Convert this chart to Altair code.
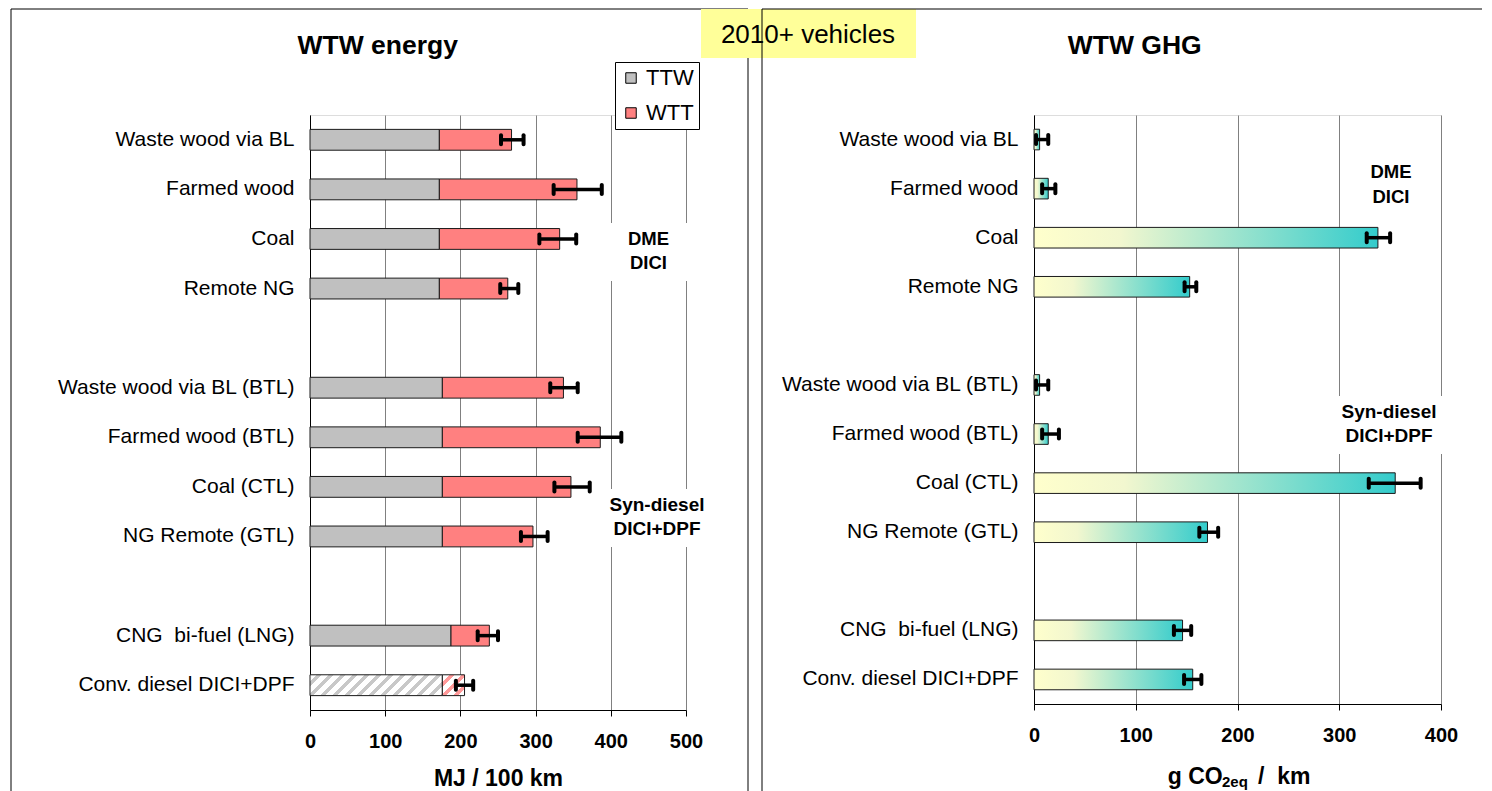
import altair as alt
import pandas as pd

# ---------------- data ----------------
categories = [
    "Waste wood via BL", "Farmed wood", "Coal", "Remote NG",
    "Waste wood via BL (BTL)", "Farmed wood (BTL)", "Coal (CTL)", "NG Remote (GTL)",
    "CNG \u00a0bi-fuel (LNG)", "Conv. diesel DICI+DPF",
]
ttw_energy = [172, 172, 172, 172, 176, 176, 176, 176, 187.5, 176]
wtw_energy = [268, 355, 332, 263, 337, 386, 347, 296.5, 238.5, 205.5]
wtw_energy_low = [254, 324, 305, 253, 319.5, 356, 325, 280.5, 223, 194]
wtw_energy_high = [284, 388, 354, 277, 356, 414, 372, 316, 250, 217]
wtw_ghg = [5.5, 14, 338, 153, 5.5, 14, 355, 170.5, 146, 156]
wtw_ghg_low = [2, 8, 327, 148, 2, 8, 329, 162.5, 137.5, 147.5]
wtw_ghg_high = [14, 21, 350, 159.5, 14, 24.5, 380, 181, 154.5, 164.5]
energy_ticks = [0, 100, 200, 300, 400, 500]
ghg_ticks = [0, 100, 200, 300, 400]
series_names = ["TTW", "WTT"]
hatched_category = "Conv. diesel DICI+DPF"
gap_labels = [" ", "  "]
group_notes = [["DME", "DICI"], ["Syn-diesel", "DICI+DPF"]]

# ---------------- layout / style ----------------
FONT = "Liberation Sans"
LW, LH = 376, 595
RW, RH = 407, 589
SPACING = 348
P_IN, P_OUT = 0.58, 0.29
series_colors = ["#c0c0c0", "#ff8080"]
GRID = "#808080"
EDGE = "#1a1a1a"

y_order = categories[:4] + [gap_labels[0]] + categories[4:8] + [gap_labels[1]] + categories[8:]

rows = []
for c, t, w in zip(categories, ttw_energy, wtw_energy):
    if c == hatched_category:
        continue
    rows.append({"cat": c, "series": "TTW", "start": 0, "end": t})
    rows.append({"cat": c, "series": "WTT", "start": t, "end": w})
energy_bars = pd.DataFrame(rows)
hi = categories.index(hatched_category)
hatch_ttw = pd.DataFrame([{"cat": hatched_category, "start": 0, "end": ttw_energy[hi]}])
hatch_wtt = pd.DataFrame([{"cat": hatched_category, "start": ttw_energy[hi], "end": wtw_energy[hi]}])
energy_err = pd.DataFrame({"cat": categories, "lo": wtw_energy_low, "hi": wtw_energy_high})
ghg_df = pd.DataFrame({"cat": categories, "v": wtw_ghg, "lo": wtw_ghg_low, "hi": wtw_ghg_high})
one = pd.DataFrame({"k": [0]})

# hatch pattern built as a striped linear gradient
step_L = LH / (len(y_order) - P_IN + 2 * P_OUT)
band_L = step_L * (1 - P_IN)
px_L = LW / energy_ticks[-1]


def hatch(w, h, col, period=12.0, stripe=5.0):
    r = h / w
    k = (1 + r) / (1 + r * r)
    tot = w + h
    stops = []
    pos = 0.0
    while pos < tot:
        a = min(pos / tot, 1)
        b = min((pos + period - stripe) / tot, 1)
        c = min((pos + period) / tot, 1)
        stops += [{"offset": round(a, 4), "color": "white"},
                  {"offset": round(b, 4), "color": "white"},
                  {"offset": round(b, 4), "color": col},
                  {"offset": round(c, 4), "color": col}]
        pos += period
    return {"gradient": "linear", "x1": 0, "y1": 0, "x2": round(k, 4), "y2": round(k * r, 4),
            "stops": stops}


fill_ttw_hatch = hatch(ttw_energy[hi] * px_L, band_L, "#c8c8c8")
fill_wtt_hatch = hatch((wtw_energy[hi] - ttw_energy[hi]) * px_L, band_L, "#ff9a9a")
ghg_fill = {"gradient": "linear", "x1": 0, "y1": 0, "x2": 1, "y2": 0,
            "stops": [{"offset": 0, "color": "#ffffcc"}, {"offset": 0.25, "color": "#f2f7cf"},
                      {"offset": 1, "color": "#33cccc"}]}


def y_enc():
    return alt.Y("cat:N", scale=alt.Scale(domain=y_order, paddingInner=P_IN, paddingOuter=P_OUT),
                  axis=alt.Axis(title=None, ticks=False, labelFontSize=21, labelFont=FONT,
                                labelColor="#000", labelPadding=16, domainColor="#000",
                                labelLimit=400))


def x_axis(ticks, title):
    return alt.Axis(values=ticks, grid=True, gridColor=GRID, gridWidth=1, domainColor="#000",
                    tickColor="#000", tickSize=6, labelFontSize=20, labelFontWeight="bold",
                    labelFont=FONT, labelColor="#000", labelPadding=15, labelFlush=False,
                    labelOverlap=False, title=title, titleFont=FONT, titleFontSize=23,
                    titleFontWeight="bold", titleColor="#000", titlePadding=16)


def xl(field):
    return alt.X(field, scale=alt.Scale(domain=[0, energy_ticks[-1]], nice=False),
                 axis=x_axis(energy_ticks, "MJ / 100 km"))


def xr(field):
    return alt.X(field, scale=alt.Scale(domain=[0, ghg_ticks[-1]], nice=False),
                 axis=x_axis(ghg_ticks, None))


def txt(text, x, y, size, weight="bold", align="center"):
    return alt.Chart(one).mark_text(text=text, fontSize=size, fontWeight=weight, font=FONT,
                                    align=align, baseline="alphabetic", color="#000").encode(
        x=alt.value(x), y=alt.value(y))


def box(x, x2, y, y2, fill="white"):
    return alt.Chart(one).mark_rect(fill=fill, strokeWidth=0).encode(
        x=alt.value(x), x2=alt.value(x2), y=alt.value(y), y2=alt.value(y2))


def frame(x, x2, y, y2):
    return alt.Chart(one).mark_rect(fillOpacity=0, stroke="#000", strokeWidth=1).encode(
        x=alt.value(x), x2=alt.value(x2), y=alt.value(y), y2=alt.value(y2))


def line(x, x2, y, y2):
    return alt.Chart(one).mark_rule(color="#000", strokeWidth=1).encode(
        x=alt.value(x), x2=alt.value(x2), y=alt.value(y), y2=alt.value(y2))


# ---------------- left panel ----------------
legend = alt.Legend(orient="none", legendX=305, legendY=-53, title=None, fillColor="white",
                    strokeColor="#000", padding=5, symbolType="square", symbolSize=110,
                    symbolStrokeColor="#000", symbolStrokeWidth=1, labelFontSize=22,
                    labelFont=FONT, labelColor="#000", rowPadding=13, labelOffset=4)

bars_L = alt.Chart(energy_bars).mark_bar(stroke=EDGE, strokeWidth=1).encode(
    y=y_enc(), x=xl("start:Q"), x2="end:Q",
    color=alt.Color("series:N", scale=alt.Scale(domain=series_names, range=series_colors),
                    legend=legend))
hatch_L1 = alt.Chart(hatch_ttw).mark_bar(fill=fill_ttw_hatch, stroke=EDGE, strokeWidth=1).encode(
    y=y_enc(), x=xl("start:Q"), x2="end:Q")
hatch_L2 = alt.Chart(hatch_wtt).mark_bar(fill=fill_wtt_hatch, stroke=EDGE, strokeWidth=1).encode(
    y=y_enc(), x=xl("start:Q"), x2="end:Q")
err_L = alt.Chart(energy_err).mark_rule(color="#000", strokeWidth=3.5).encode(
    y=y_enc(), x=xl("lo:Q"), x2="hi:Q")
caps_L = alt.Chart(energy_err).transform_fold(["lo", "hi"], as_=["end", "val"]).mark_tick(
    color="#000", size=13, thickness=4, opacity=1, cornerRadius=2).encode(
    y=y_enc(), x=xl("val:Q"))

left = alt.layer(
    frame(-299, 438, -106, 684),
    bars_L, hatch_L1, hatch_L2, err_L, caps_L,
    box(294, 382, 108, 166),
    txt(group_notes[0][0], 338.5, 130, 18.5), txt(group_notes[0][1], 338.5, 154, 18.5),
    box(294, 399, 374, 432),
    txt(group_notes[1][0], 347, 395.5, 19), txt(group_notes[1][1], 347, 420, 19),
    txt("WTW energy", 67.7, -60.7, 26.5),
    box(391, 606, -106, -57, fill="#ffff99"),
    txt("2010+ vehicles", 498, -72.3, 26, weight="normal"),
).properties(width=LW, height=LH)

# ---------------- right panel ----------------
bars_R = alt.Chart(ghg_df).mark_bar(fill=ghg_fill, stroke=EDGE, strokeWidth=1).encode(
    y=y_enc(), x=xr("v:Q"))
err_R = alt.Chart(ghg_df).mark_rule(color="#000", strokeWidth=3.5).encode(
    y=y_enc(), x=xr("lo:Q"), x2="hi:Q")
caps_R = alt.Chart(ghg_df).transform_fold(["lo", "hi"], as_=["end", "val"]).mark_tick(
    color="#000", size=13, thickness=4, opacity=1, cornerRadius=2).encode(
    y=y_enc(), x=xr("val:Q"))

right = alt.layer(
    line(-272, -272, -106, 684),
    line(-272, 448, -106, -106),
    bars_R, err_R, caps_R,
    txt(group_notes[0][0], 357, 62.7, 18.5), txt(group_notes[0][1], 357, 87.7, 18.5),
    box(302, 412, 281, 339),
    txt(group_notes[1][0], 355, 302.7, 19), txt(group_notes[1][1], 355, 327, 19),
    txt("WTW GHG", 100.7, -60.7, 26.5),
    txt("g CO", 133.7, 669, 23, align="left"),
    txt("2eq", 188, 672, 15, align="left"),
    txt("/ \u00a0km", 224, 669, 23, align="left"),
).properties(width=RW, height=RH)

chart = alt.hconcat(left, right, spacing=SPACING, bounds="flush").resolve_scale(
    x="independent", y="independent").properties(
    padding={"left": 2, "top": 0, "right": 0, "bottom": 0}
).configure_view(stroke=GRID, strokeWidth=1).configure(font=FONT)

chart.save("out.html", embed_options={"renderer": "svg", "actions": False})
